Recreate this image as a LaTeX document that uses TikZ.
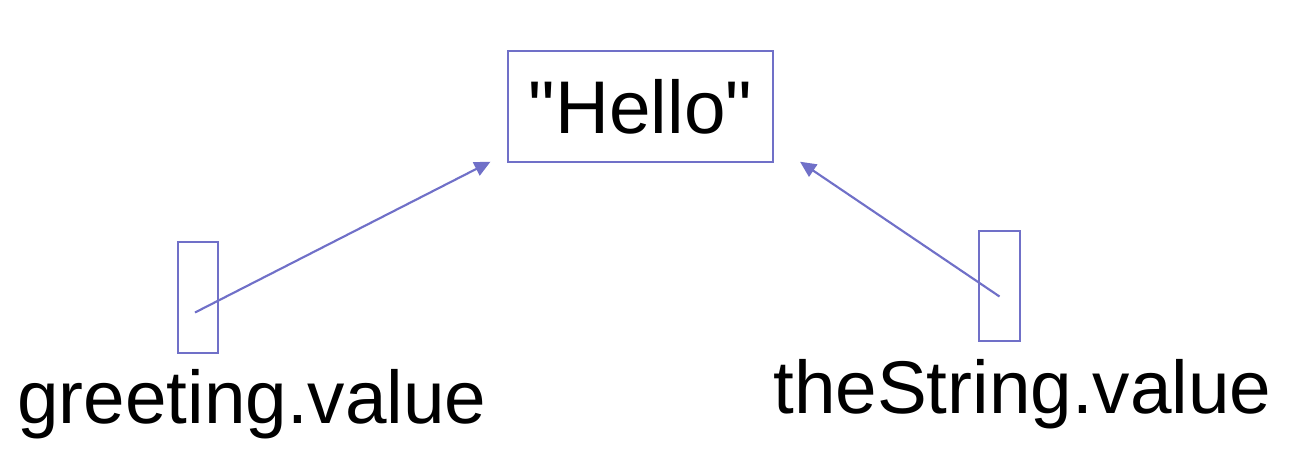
\documentclass[tikz,border=0pt]{standalone}
\usepackage{fontspec}
\setmainfont{Liberation Sans}
\usetikzlibrary{arrows.meta}

\definecolor{refblue}{RGB}{112,112,200}
\newcommand{\straightquote}{\XeTeXglyph\XeTeXcharglyph"22\relax}
\tikzset{
  refbox/.style={draw=refblue, line width=1.6pt, inner sep=0pt, outer sep=0pt},
  refarrow/.style={draw=refblue, line width=1.6pt, -{Triangle[length=12pt,width=11pt]}},
  reftext/.style={inner sep=0pt, anchor=base west, font=\fontsize{56}{60}\selectfont}
}

\begin{document}
\begin{tikzpicture}[x=0.75pt,y=0.75pt,yscale=-1,xscale=1]
\useasboundingbox (0,0) rectangle (1298,468);

%Shape: Rectangle [id:hello]
\node [refbox, minimum width=198.75pt, minimum height=83.25pt, font=\fontsize{56}{60}\selectfont] (hello) at (640.5,106.5) {\straightquote Hello\straightquote};
%Shape: Rectangle [id:greeting]
\node [refbox, minimum width=30pt, minimum height=83.25pt] (greeting) at (198,297.5) {};
%Shape: Rectangle [id:thestring]
\node [refbox, minimum width=30.75pt, minimum height=82.5pt] (thestring) at (999.5,286) {};

%Text labels
\node [reftext] (greetinglabel) at (17,423) {greeting.value};
\node [reftext] (thestringlabel) at (773,413) {theString.value};

%Arrow ends
\coordinate (greetingtail) at (195,312.5);
\coordinate (greetingtip) at (490.5,161.7);
\coordinate (thestringtail) at (999.5,296.5);
\coordinate (thestringtip) at (800,161.7);

%Straight Lines
\draw [refarrow] (greetingtail) -- (greetingtip);
\draw [refarrow] (thestringtail) -- (thestringtip);

\end{tikzpicture}
\end{document}
